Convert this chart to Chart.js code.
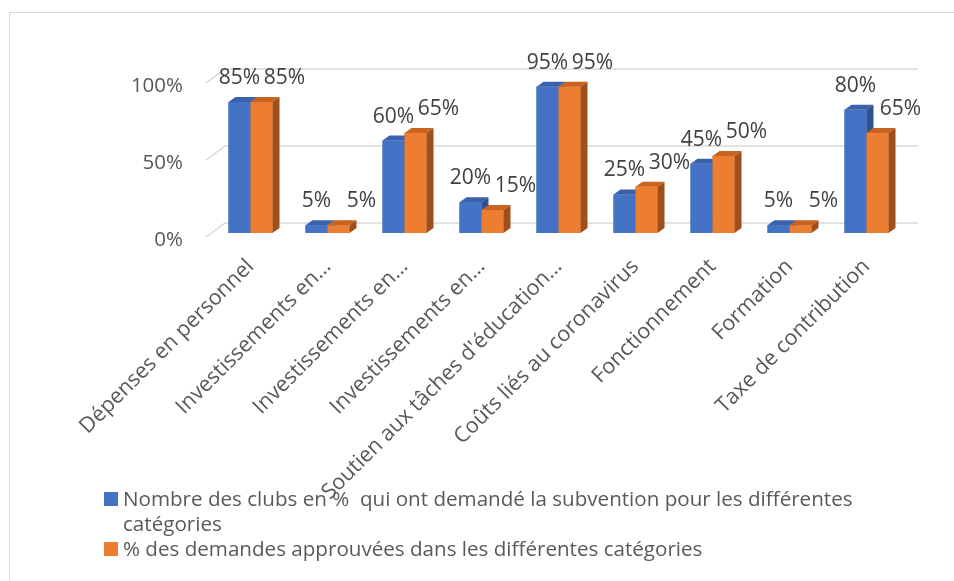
<!DOCTYPE html>
<html><head><meta charset="utf-8">
<script src="https://cdn.jsdelivr.net/npm/chart.js@4.4.0/dist/chart.umd.min.js"></script>
<style>
html,body{margin:0;padding:0;background:#fff;overflow:hidden;}
#wrap{position:relative;width:954px;height:581px;overflow:hidden;background:#fff;}
#frame{position:absolute;left:9px;top:12px;width:1000px;height:700px;border:1.5px solid #d9d9d9;box-sizing:border-box;}
#c{position:absolute;left:0;top:0;}
#legend{position:absolute;left:104px;top:486px;width:780px;font-family:'Open Sans',sans-serif;font-size:20.6px;color:#595959;line-height:25px;}
.item{display:flex;align-items:flex-start;}
.sw{flex:none;width:14px;height:14px;margin-top:6px;margin-right:5px;}
.tx{white-space:pre-wrap;}
</style></head>
<body>
<div id="wrap">
  <div id="frame"></div>
  <canvas id="c" width="954" height="581"></canvas>
  <div id="legend"></div>
</div>
<script>
// ---- data ----
const categories = [
  "Dépenses en personnel",
  "Investissements en…",
  "Investissements en…",
  "Investissements en…",
  "Soutien aux tâches d'éducation…",
  "Coûts liés au coronavirus",
  "Fonctionnement",
  "Formation",
  "Taxe de contribution"
];
const seriesNames = [
  "Nombre des clubs en %  qui ont demandé la subvention pour les différentes catégories",
  "% des demandes approuvées dans les différentes catégories"
];
const requested = [85, 5, 60, 20, 95, 25, 45, 5, 80];
const approved  = [85, 5, 65, 15, 95, 30, 50, 5, 65];
const yTicks = [0, 50, 100];

// ---- styles ----
const COLORS = [
  {front:'#4472C4', top:'#3A62AB', side:'#2E5290'},
  {front:'#ED7D31', top:'#C8641F', side:'#9E4F1C'}
];
const BAR_DEPTH = {dx:7, dy:5};
const WALL = {bx:13, by:-10, fx:-6, fy:4};
const LABEL_DX = [0, 23];
const LABEL_DY = 24;
const TXT = '#595959';

const threeD = {
  id:'threeD',
  beforeDatasetsDraw(chart){
    const {ctx, chartArea:a, scales:{y}} = chart;
    ctx.save();
    ctx.strokeStyle = '#d9d9d9';
    ctx.lineWidth = 1.5;
    y.ticks.forEach(t=>{
      const py = y.getPixelForValue(t.value);
      ctx.beginPath();
      ctx.moveTo(a.left + WALL.fx, py + WALL.fy);
      ctx.lineTo(a.left + WALL.bx, py + WALL.by);
      ctx.lineTo(a.right + WALL.bx, py + WALL.by);
      ctx.stroke();
    });
    ctx.restore();
  },
  afterDatasetsDraw(chart){
    const ctx = chart.ctx;
    ctx.save();
    chart.data.datasets.forEach((ds,i)=>{
      const meta = chart.getDatasetMeta(i);
      const c = COLORS[i];
      meta.data.forEach(bar=>{
        const {x,y,base,width} = bar.getProps(['x','y','base','width'], true);
        const l = x - width/2, r = x + width/2;
        const dx = BAR_DEPTH.dx, dy = BAR_DEPTH.dy;
        ctx.fillStyle = c.front;
        ctx.fillRect(l, y, width, base - y);
        ctx.fillStyle = c.top;
        ctx.beginPath();
        ctx.moveTo(l, y); ctx.lineTo(r, y); ctx.lineTo(r+dx, y-dy); ctx.lineTo(l+dx, y-dy);
        ctx.closePath(); ctx.fill();
        ctx.fillStyle = c.side;
        ctx.beginPath();
        ctx.moveTo(r, y); ctx.lineTo(r+dx, y-dy); ctx.lineTo(r+dx, base-dy); ctx.lineTo(r, base);
        ctx.closePath(); ctx.fill();
      });
    });
    ctx.font = '21px "Open Sans"';
    ctx.fillStyle = '#404040';
    ctx.textAlign = 'center';
    ctx.textBaseline = 'middle';
    chart.data.datasets.forEach((ds,i)=>{
      const meta = chart.getDatasetMeta(i);
      meta.data.forEach((bar,j)=>{
        const {x,y} = bar.getProps(['x','y'], true);
        ctx.fillText(ds.data[j] + '%', x + LABEL_DX[i], y - LABEL_DY);
      });
    });
    ctx.restore();
  }
};

new Chart(document.getElementById('c'), {
  type:'bar',
  data:{
    labels: categories,
    datasets:[
      {label:seriesNames[0], data:requested, backgroundColor:COLORS[0].front},
      {label:seriesNames[1], data:approved, backgroundColor:COLORS[1].front}
    ]
  },
  options:{
    responsive:false,
    animation:false,
    devicePixelRatio:1,
    layout:{padding:{left:0, right:49, top:79, bottom:0}},
    plugins:{legend:{display:false}, tooltip:{enabled:false}},
    datasets:{bar:{categoryPercentage:44/77, barPercentage:1}},
    scales:{
      x:{
        grid:{display:false, drawTicks:false},
        border:{display:false},
        afterFit(s){ s.height = 348; },
        ticks:{autoSkip:false, minRotation:45, maxRotation:45, padding:21, color:TXT,
               font:{family:'Open Sans', size:21.5}}
      },
      y:{
        min:0, max:100,
        grid:{display:false, drawTicks:false},
        border:{display:false},
        afterFit(s){ s.width = 212; },
        afterBuildTicks(s){ s.ticks = yTicks.map(v=>({value:v})); },
        ticks:{padding:29, labelOffset:7, color:TXT, font:{family:'Open Sans', size:20.5},
               callback:v=>v+'%'}
      }
    }
  },
  plugins:[threeD]
});

// HTML legend
const lg = document.getElementById('legend');
seriesNames.forEach((n,i)=>{
  const it = document.createElement('div'); it.className='item';
  const sw = document.createElement('span'); sw.className='sw'; sw.style.background=COLORS[i].front;
  const tx = document.createElement('span'); tx.className='tx'; tx.textContent = n;
  it.appendChild(sw); it.appendChild(tx); lg.appendChild(it);
});
</script>
</body></html>
